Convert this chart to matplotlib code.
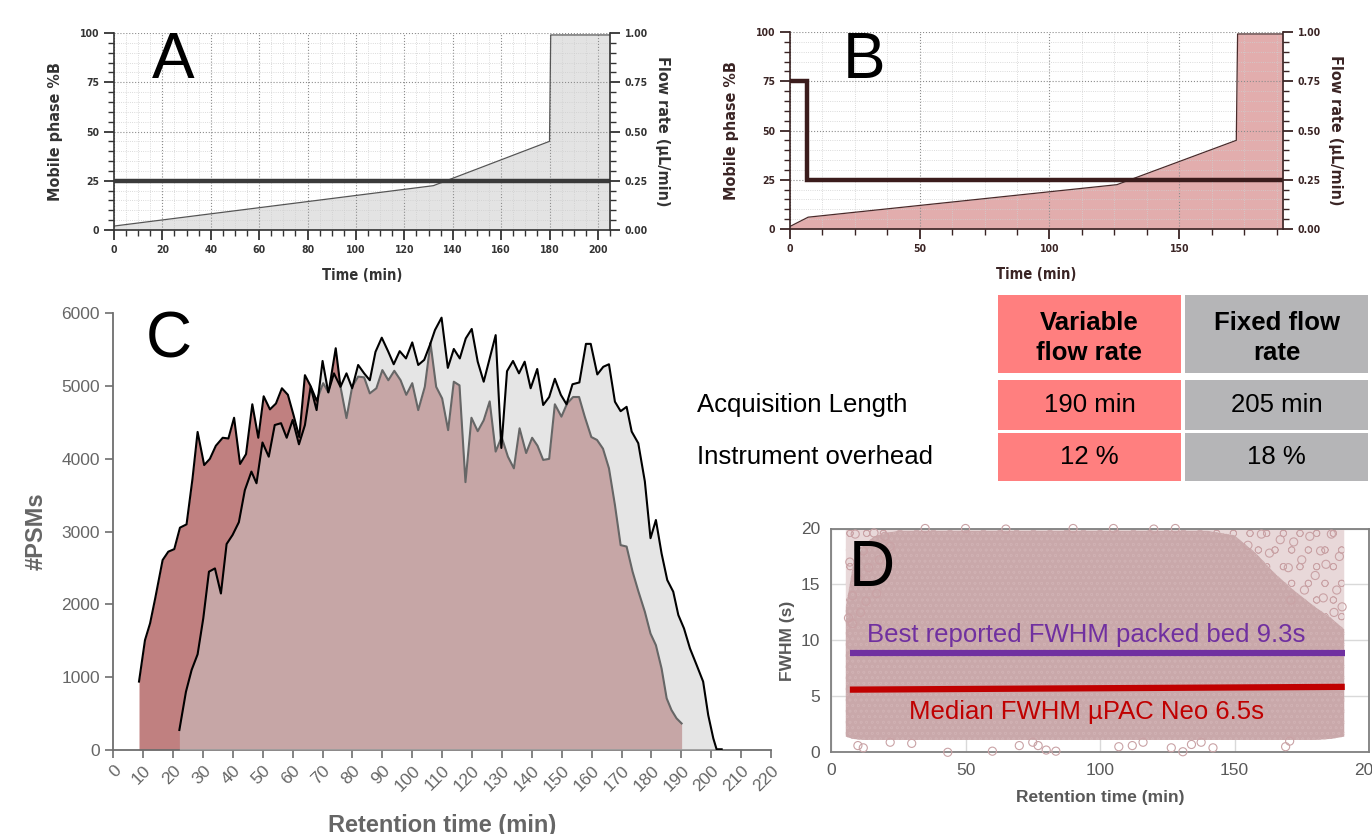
import numpy as np
import matplotlib
matplotlib.use('Agg')
import matplotlib.pyplot as plt
from matplotlib.ticker import MultipleLocator, FormatStrFormatter
from matplotlib.patches import Rectangle

W, H = 1372, 834

# Panel A: fixed flow rate gradient
a_time = [0, 132, 180, 180.5, 205]
a_pct_b = [2, 22.5, 45, 99, 99]
a_flow_time = [0, 205]
a_flow = [0.25, 0.25]

# Panel B: variable flow rate gradient
b_time = [0, 7, 126, 172, 172.5, 190]
b_pct_b = [1.3, 6, 22.5, 45, 99, 99]
b_flow_time = [0, 6.7, 6.7, 190]
b_flow = [0.75, 0.75, 0.25, 0.25]

# Panel C: PSMs per retention time
var_time = [8.6, 10.6, 12.3, 14.0, 16.5, 18.4, 20.4, 22.3, 24.5, 26.5, 28.2, 30.4, 32.3, 34.3,
            36.6, 38.5, 40.4, 42.4, 44.4, 46.5, 48.5, 50.3, 52.4, 54.4, 56.4, 58.4, 60.3, 62.2,
            64.1, 66.0, 68.0, 70.2, 72.0, 74.4, 76.0, 78.0, 79.9, 81.9, 83.9, 85.8, 88.0, 90.0,
            92.0, 94.0, 96.1, 98.0, 100.0, 102.0, 104.2, 106.1, 108.0, 110.0, 112.0, 113.9,
            115.8, 117.8, 119.8, 121.9, 123.9, 125.9, 127.9, 129.9, 132.0, 134.0, 135.9, 138.1,
            140.1, 141.9, 143.8, 145.8, 147.7, 149.9, 151.8, 153.8, 155.8, 157.7, 159.9, 161.8,
            163.8, 165.8, 167.8, 169.7, 171.7, 173.7, 175.6, 177.8, 179.7, 181.5, 183.4, 185.1,
            186.7, 188.4, 190.1]
var_psms = [940, 1510, 1740, 2080, 2610, 2725, 2760, 3055, 3100, 3730, 4370, 3915, 4000, 4180,
            4290, 4280, 4565, 3930, 4065, 4750, 4290, 4860, 4680, 4760, 4970, 4880, 4600, 4300,
            5150, 5000, 4800, 5040, 4910, 5520, 4990, 4560, 4990, 5130, 5120, 4900, 4970, 5220,
            5080, 5210, 5080, 4880, 5040, 4670, 4990, 5590, 4990, 4830, 4395, 5060,
            5010, 3680, 4565, 4380, 4530, 4790, 4100, 4300, 4030, 3870, 4420, 4080,
            4290, 4180, 3985, 4000, 4750, 4580, 4760, 4850, 4850, 4580, 4300, 4260,
            4140, 3870, 3365, 2815, 2795, 2450, 2185, 1900, 1600, 1440, 1120, 710,
            550, 435, 365]
fix_time = [22.1, 24.3, 26.2, 28.2, 30.1, 32.0, 34.0, 36.0, 37.9, 39.9, 42.0, 44.0, 46.2, 47.9,
            49.9, 52.0, 54.0, 56.1, 58.0, 60.0, 62.1, 64.1, 66.0, 68.0, 70.0, 71.9, 73.8, 76.0,
            78.0, 79.9, 81.9, 83.9, 85.8, 87.7, 89.8, 91.9, 93.8, 95.8, 97.9, 100.0, 102.0, 104.0,
            105.9, 107.6, 109.8, 111.9, 113.9, 115.9, 117.9, 119.9, 121.9, 123.9, 125.9, 127.9,
            129.8, 131.7, 133.7, 135.7, 137.6, 139.6, 141.8, 143.8, 145.8, 147.7, 149.7, 151.6,
            153.6, 155.9, 158.1, 159.7, 161.9, 163.9, 165.8, 167.8, 169.7, 171.7, 173.4, 175.6,
            177.8, 179.7, 181.5, 183.4, 185.3, 187.3, 189.0, 190.9, 192.9, 195.1, 197.3, 199.0,
            200.7, 201.8, 203.5]
fix_psms = [275, 800, 1100, 1315, 1810, 2450, 2495, 2150, 2830, 2955, 3130, 3570, 3825, 3665,
            4225, 4030, 4465, 4490, 4290, 4535, 4200, 4465, 4990, 4670, 5345, 4915, 5175, 4990,
            5175, 4970, 5290, 5175, 5080, 5470, 5665, 5480, 5300, 5480, 5380, 5600, 5290, 5360,
            5565, 5770, 5940, 5250, 5510, 5380, 5655, 5785, 5335, 5060, 5380, 5700,
            4150, 5205, 5345, 5175, 5335, 4970, 5235, 4740, 4850, 5100, 4880, 4750,
            5025, 5050, 5580, 5580, 5160, 5265, 5300, 4785, 4655, 4715, 4375, 4215,
            3690, 2910, 3160, 2700, 2335, 2175, 1855, 1670, 1395, 1170, 940, 480,
            160, 10, 10]

# Table
tbl_cols = ['Variable\nflow rate', 'Fixed flow\nrate']
tbl_rows = ['Acquisition Length', 'Instrument overhead']
tbl_vals = [['190 min', '205 min'], ['12 %', '18 %']]

# Panel D: FWHM cloud (dense envelope, sparse area) and outlying peaks
d_env_time = [5.5, 8, 12, 16, 20, 25, 30, 140, 150, 158, 165, 172, 180, 186, 190.8]
d_env_top = [13, 16.5, 18.5, 19.3, 19.6, 19.8, 19.8, 19.8, 19.4, 17.8, 16.0, 14.5, 13.0, 12.0, 11.0]
d_env_bottom = [1.4, 1.2, 1.1, 1.1, 1.1, 1.1, 1.1, 1.1, 1.1, 1.1, 1.1, 1.1, 1.1, 1.2, 1.4]
d_out_time = [43.4, 60, 70, 75, 77, 80, 83.6, 107, 112, 116, 126.5, 130.8, 134, 137.6, 142,
              169, 170.5, 10, 12, 22, 30,
              155, 160, 163, 167, 170, 172, 175, 178, 180, 182, 184, 186, 188, 189, 190, 187,
              183, 176, 171, 7, 8, 9, 10, 11, 12, 13, 14, 16, 17, 18, 20, 22, 6.5, 8,
              35, 50, 65, 90, 105, 120, 128]
d_out_fwhm = [0.0, 0.1, 0.6, 0.9, 0.6, 0.2, 0.1, 0.5, 0.6, 0.9, 0.4, 0.05, 0.7, 0.9, 0.4,
              0.5, 1.0, 0.6, 0.4, 0.9, 0.8,
              18.5, 19.5, 17.8, 19.0, 16.5, 18.8, 17.2, 19.3, 15.8, 18.0, 16.8, 19.5, 14.5, 17.5,
              13.0, 12.5, 13.8, 14.5, 13.6, 17, 14, 19.5, 15.5, 12.5, 18, 13.5, 16.5, 19.6, 14.2,
              17.2, 19.3, 18.4, 12, 11.5,
              20.0, 20.0, 19.95, 20.0, 20.0, 19.95, 20.0]
best_packed = 9.3
d_line_time = [7, 191]
d_purple = [8.85, 8.85]
d_red = [5.6, 5.85]

COND = dict(family='DejaVu Sans', stretch='condensed')
plt.rcParams['font.family'] = ['Liberation Sans', 'DejaVu Sans']


def px_rect(l, t, r, b):
    return [l / W, 1 - b / H, (r - l) / W, (b - t) / H]


fig = plt.figure(figsize=(W / 100, H / 100), dpi=100)


def style_labels(labels):
    for lab in labels:
        lab.set_family('DejaVu Sans')
        lab.set_stretch('condensed')
        lab.set_fontweight('bold')


def gradient_panel(rect, xmax, xmaj, xmin, t, pb, ft, fl, fill_c, line_c, flow_c, txt_c):
    ax = fig.add_axes(rect)
    ax.set_xlim(0, xmax)
    ax.set_ylim(0, 100)
    ax.fill_between(t, 0, pb, color=fill_c, lw=0)
    ax.plot(t, pb, color=line_c, lw=0.9)
    ax.xaxis.set_major_locator(MultipleLocator(xmaj))
    ax.xaxis.set_minor_locator(MultipleLocator(xmin))
    ax.yaxis.set_major_locator(MultipleLocator(25))
    ax.yaxis.set_minor_locator(MultipleLocator(5))
    ax.grid(which='major', ls=':', color='#8c8c8c', lw=0.8)
    ax.grid(which='minor', ls=':', color='#cfcfcf', lw=0.6)
    for s in ['top', 'right']:
        ax.spines[s].set_visible(False)
    for s in ['left', 'bottom']:
        ax.spines[s].set_color(txt_c)
        ax.spines[s].set_linewidth(1.2)
    ax.tick_params(which='major', direction='out', length=7, width=1.3, color=txt_c,
                   labelsize=7.5, labelcolor=txt_c)
    ax.tick_params(which='minor', direction='out', length=4, width=1.0, color=txt_c)
    style_labels(ax.get_xticklabels() + ax.get_yticklabels())
    ax.set_xlabel('Time (min)', fontsize=10.5, fontweight='bold', color=txt_c, labelpad=10,
                  **COND)
    ax.set_ylabel('Mobile phase %B', fontsize=11.5, fontweight='bold', color=txt_c,
                  labelpad=12, **COND)
    ax2 = ax.twinx()
    ax2.set_ylim(0, 1)
    ax2.plot(ft, fl, color=flow_c, lw=3.2, solid_joinstyle='miter')
    ax2.yaxis.set_major_locator(MultipleLocator(0.25))
    ax2.yaxis.set_minor_locator(MultipleLocator(0.05))
    ax2.yaxis.set_major_formatter(FormatStrFormatter('%.2f'))
    for s in ['top', 'left', 'bottom']:
        ax2.spines[s].set_visible(False)
    ax2.spines['right'].set_color(txt_c)
    ax2.spines['right'].set_linewidth(1.2)
    ax2.tick_params(which='major', direction='out', length=7, width=1.3, color=txt_c,
                    labelsize=7.5, labelcolor=txt_c)
    ax2.tick_params(which='minor', direction='out', length=4, width=1.0, color=txt_c)
    style_labels(ax2.get_yticklabels())
    ax2.set_ylabel('Flow rate (µL/min)', fontsize=11.5, fontweight='bold', color=txt_c,
                   rotation=-90, labelpad=16, **COND)
    return ax


ax_a = gradient_panel(px_rect(114, 33, 610, 230), 205, 20, 5, a_time, a_pct_b,
                      a_flow_time, a_flow, '#e3e3e3', '#555555', '#3a3a3a', '#333333')
ax_b = gradient_panel(px_rect(790, 32, 1283, 229), 190, 50, 12.5, b_time, b_pct_b,
                      b_flow_time, b_flow, '#e2adad', '#4a2a2a', '#3b1c1c', '#3a2424')
fig.text(152 / W, 1 - 78 / H, 'A', fontsize=46, va='baseline', ha='left')
fig.text(843 / W, 1 - 78 / H, 'B', fontsize=46, va='baseline', ha='left')

# Panel C
ax_c = fig.add_axes(px_rect(113.3, 313.3, 771, 750))
ax_c.fill_between(var_time, 0, var_psms, color='#c08080', lw=0, zorder=1)
ax_c.plot(var_time, var_psms, color='black', lw=1.5, zorder=2)
ax_c.fill_between(fix_time, 0, fix_psms, color='#cccccc', alpha=0.5, lw=0, zorder=3)
ax_c.plot(fix_time, fix_psms, color='black', lw=1.5, zorder=4)
ax_c.set_xlim(0, 220)
ax_c.set_ylim(0, 6000)
ax_c.set_xticks(np.arange(0, 221, 10))
ax_c.set_yticks(np.arange(0, 6001, 1000))
for s in ['top', 'right']:
    ax_c.spines[s].set_visible(False)
for s in ['left', 'bottom']:
    ax_c.spines[s].set_color('#6e6e6e')
    ax_c.spines[s].set_linewidth(1.3)
ax_c.tick_params(direction='out', length=6, width=1.2, color='#6e6e6e', labelsize=12.5,
                 labelcolor='#666666')
plt.setp(ax_c.get_xticklabels(), rotation=45, ha='right', rotation_mode='anchor')
ax_c.set_xlabel('Retention time (min)', fontsize=17, fontweight='bold', color='#666666',
                labelpad=14)
ax_c.set_ylabel('#PSMs', fontsize=17, fontweight='bold', color='#666666', labelpad=10)
fig.text(146 / W, 1 - 357 / H, 'C', fontsize=46, va='baseline', ha='left')

# Table
col_x = [(998, 1181), (1185, 1368)]
col_colors = ['#ff7f7f', '#b5b5b7']
head_y = (295, 373)
row_y = [(380, 430), (433, 481)]
for j, (x0, x1) in enumerate(col_x):
    fig.add_artist(Rectangle((x0 / W, 1 - head_y[1] / H), (x1 - x0) / W,
                             (head_y[1] - head_y[0]) / H, transform=fig.transFigure,
                             color=col_colors[j], lw=0))
    fig.text((x0 + x1) / 2 / W, 1 - (head_y[0] + head_y[1] + 8) / 2 / H, tbl_cols[j],
             fontsize=18.5, fontweight='bold', ha='center', va='center', linespacing=1.3)
    for i, (y0, y1) in enumerate(row_y):
        fig.add_artist(Rectangle((x0 / W, 1 - y1 / H), (x1 - x0) / W, (y1 - y0) / H,
                                 transform=fig.transFigure, color=col_colors[j], lw=0))
        fig.text((x0 + x1) / 2 / W, 1 - (y0 + y1) / 2 / H, tbl_vals[i][j], fontsize=18.5,
                 ha='center', va='center')
for i, (y0, y1) in enumerate(row_y):
    fig.text(697 / W, 1 - (y0 + y1) / 2 / H, tbl_rows[i], fontsize=18.5, ha='left',
             va='center')

# Panel D
ax_d = fig.add_axes(px_rect(831, 528.5, 1369, 752.3))
ax_d.set_xlim(0, 200)
ax_d.set_ylim(0, 20)
ax_d.set_xticks(np.arange(0, 201, 50))
ax_d.set_yticks(np.arange(0, 21, 5))
ax_d.grid(color='#d9d9d9', lw=1.0, zorder=0)
ax_d.set_axisbelow(True)
plt.rcParams['hatch.linewidth'] = 0.5
ax_d.fill_between(d_env_time, d_env_top, 20, facecolor='#e8d8d9', edgecolor='#c9a2a5',
                  hatch='o', lw=0, zorder=1)
ax_d.fill_between(d_env_time, d_env_bottom, d_env_top, facecolor='#c9a8aa',
                  edgecolor='#cfb0b2', hatch='ooo', lw=0, zorder=2)
ax_d.scatter(d_out_time, d_out_fwhm, s=34, facecolors='none', edgecolors='#c9a2a5', lw=0.8,
             zorder=3, clip_on=False)
ax_d.plot(d_line_time, d_purple, color='#7030a0', lw=4.5, solid_capstyle='butt', zorder=4)
ax_d.plot(d_line_time, d_red, color='#c00000', lw=4.5, solid_capstyle='butt', zorder=4)
ax_d.text(95, 9.9, 'Best reported FWHM packed bed %.1fs' % best_packed, color='#7030a0',
          fontsize=18.5, ha='center', va='baseline', zorder=5)
ax_d.text(95, 3.0, 'Median FWHM µPAC Neo 6.5s', color='#c00000', fontsize=18.5,
          ha='center', va='baseline', zorder=5)
for s in ax_d.spines.values():
    s.set_color('#7f7f7f')
    s.set_linewidth(1.3)
ax_d.tick_params(length=0, labelsize=12.5, labelcolor='#595959', pad=8)
ax_d.set_xlabel('Retention time (min)', fontsize=12.5, fontweight='bold', color='#595959',
                labelpad=8)
ax_d.set_ylabel('FWHM (s)', fontsize=12.5, fontweight='bold', color='#595959', labelpad=4)
ax_d.text(6.5, 14.9, 'D', fontsize=46, va='baseline', ha='left', zorder=6)

fig.savefig('out.png', dpi=100)
